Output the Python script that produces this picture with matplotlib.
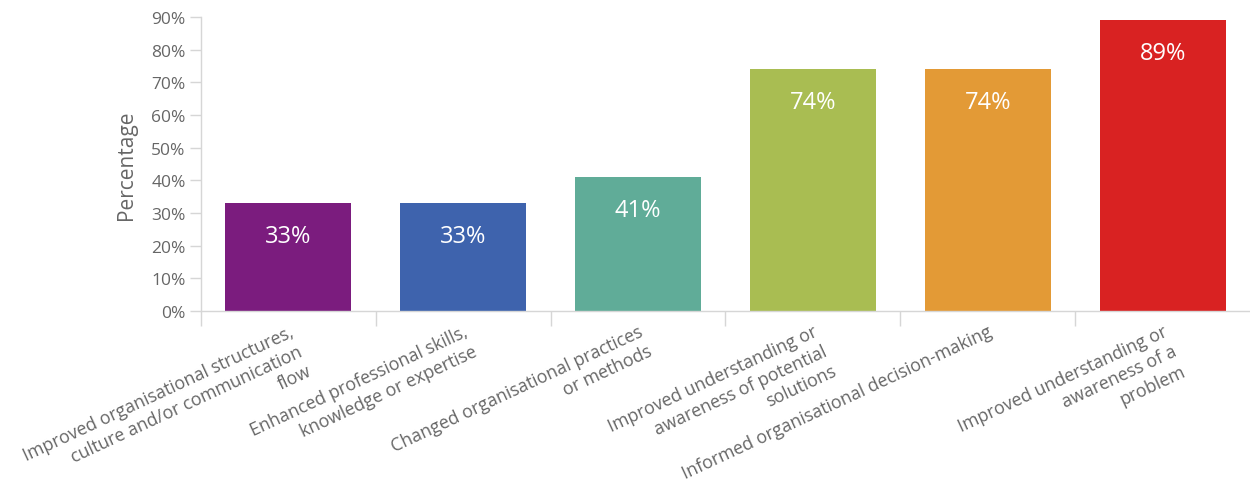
import matplotlib.pyplot as plt
from matplotlib.ticker import FixedLocator, PercentFormatter

plt.rcParams['font.family'] = ['Open Sans', 'DejaVu Sans']

categories = [
    "Improved organisational structures,\nculture and/or communication\nflow",
    "Enhanced professional skills,\nknowledge or expertise",
    "Changed organisational practices\nor methods",
    "Improved understanding or\nawareness of potential\nsolutions",
    "Informed organisational decision-making",
    "Improved understanding or\nawareness of a\nproblem",
]
values = [33, 33, 41, 74, 74, 89]
colors = ["#7b1c7e", "#3e63ad", "#60ac98", "#a9bd52", "#e39a36", "#d92222"]

grey_line = "#d6d6d6"
grey_text = "#666666"

fig = plt.figure(figsize=(12.5, 4.81), dpi=100)
ax = fig.add_axes([201 / 1250, 1 - 312 / 481, 1049 / 1250, 294 / 481])

x = range(len(values))
bars = ax.bar(x, values, width=0.72, color=colors, zorder=2)

for b, v in zip(bars, values):
    ax.annotate(f"{v}%", xy=(b.get_x() + b.get_width() / 2, v),
                xytext=(0, -23.5), textcoords="offset points",
                ha="center", va="center", color="white", fontsize=17)

ax.set_xlim(-0.5, len(values) - 0.5)
ax.set_ylim(0, 90)
ax.set_yticks(range(0, 91, 10))
ax.yaxis.set_major_formatter(PercentFormatter(decimals=0))

ax.set_xticks(list(x))
ax.set_xticklabels(categories, rotation=25, ha="right",
                   rotation_mode="anchor", multialignment="right",
                   linespacing=1.27)
ax.xaxis.set_minor_locator(FixedLocator([i - 0.5 for i in range(len(values))]))
ax.tick_params(axis="x", which="major", length=0, pad=8,
               labelsize=12.8, labelcolor=grey_text)
ax.tick_params(axis="x", which="minor", length=11, width=1,
               color=grey_line, direction="out")
ax.tick_params(axis="y", length=8, width=1, color=grey_line, pad=3,
               labelsize=12.5, labelcolor=grey_text)

for side in ("top", "right"):
    ax.spines[side].set_visible(False)
for side in ("left", "bottom"):
    ax.spines[side].set_color(grey_line)
    ax.spines[side].set_linewidth(1)

ax.set_ylabel("Percentage", fontsize=15, color=grey_text, labelpad=10)

fig.savefig("out.png", dpi=100)
